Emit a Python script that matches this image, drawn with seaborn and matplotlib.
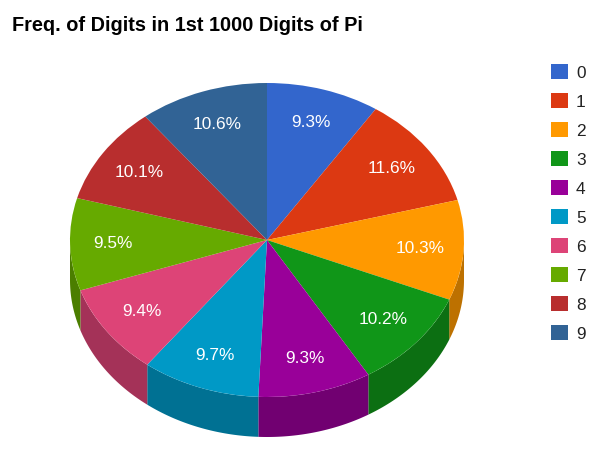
#!/usr/bin/env python3

#%% Libraries
import numpy as np
import matplotlib
matplotlib.use('Agg')
import matplotlib.pyplot as plt
import seaborn as sns

#%% Data
digits = ['0', '1', '2', '3', '4', '5', '6', '7', '8', '9']
counts = [93, 116, 103, 102, 93, 97, 94, 95, 101, 106]
colors = ['#3366cc', '#dc3912', '#ff9900', '#109618', '#990099',
          '#0099c6', '#dd4477', '#66aa00', '#b82e2e', '#316395']
title = 'Freq. of Digits in 1st 1000 Digits of Pi'

#%% Style
sns.set_style('white')
plt.rcParams['font.family'] = ['Liberation Sans', 'DejaVu Sans']
plt.rcParams['text.color'] = '#000000'

W, H = 609, 469
fig = plt.figure(figsize=(W / 100, H / 100), dpi=100)

# pie sits in its own axes, squashed vertically to fake the 3d tilt
depth = 40 / 157
ax = fig.add_axes([70 / W, 32 / H, 394 / W, 354 / H])

# side walls first (only the front half is visible)
fracs = np.array(counts) / np.sum(counts)
edges = np.concatenate([[0], np.cumsum(fracs) * 360])
for i in range(len(counts)):
    lo = max(edges[i], 90)
    hi = min(edges[i + 1], 270)
    if hi <= lo:
        continue
    th = np.radians(np.linspace(lo, hi, 60))
    xs = np.sin(th)
    ys = np.cos(th)
    px = np.concatenate([xs, xs[::-1]])
    py = np.concatenate([ys, ys[::-1] - depth])
    dark = tuple(c * 0.74 for c in matplotlib.colors.to_rgb(colors[i]))
    ax.fill(px, py, color=dark, lw=0, zorder=0)

wedges, _, autotexts = ax.pie(
    counts,
    colors=colors,
    startangle=90,
    counterclock=False,
    autopct='%1.1f%%',
    pctdistance=0.78,
    wedgeprops=dict(linewidth=0),
    textprops=dict(color='white', fontsize=12.4),
)
ax.set_aspect('auto')
ax.set_xlim(-1, 1)
ax.set_ylim(-1 - depth, 1)
ax.axis('off')

#%% Title and legend
fig.text(12 / W, 1 - 31 / H, title, fontsize=14.3, fontweight='bold',
         va='baseline', ha='left', color='black')

leg = fig.legend(wedges, digits, loc='upper left',
                 bbox_to_anchor=(551 / W, 1 - 64 / H),
                 frameon=False, fontsize=12.4, handlelength=1.0,
                 handleheight=1.0, handletextpad=0.45, labelspacing=0.72,
                 borderpad=0, borderaxespad=0)
for t in leg.get_texts():
    t.set_color('#222222')

fig.savefig('out.png', dpi=100)
